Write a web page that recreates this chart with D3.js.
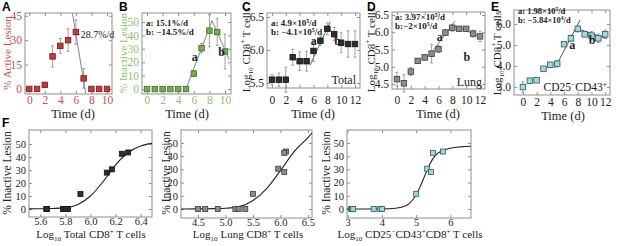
<!DOCTYPE html>
<html>
<head>
<meta charset="utf-8">
<script src="https://cdn.jsdelivr.net/npm/d3@7"></script>
<style>
  body { margin: 0; background: #fff; overflow: hidden; }
  svg { display: block; }
</style>
</head>
<body>
<svg id="chart"></svg>
<script>
// DATA
// ================================================================== //
const daysA = [0, 1, 2, 3, 4, 5, 6, 7, 8, 9, 10];
const daysT = [0, 1, 2, 3, 4, 5, 6, 7, 8, 9, 10, 11, 12];

// % lesions
const activeLesion = [0, 0, 2.5, 20, 26.5, 30, 35, 6.5, 0, 0, 0];
const activeErr = [0, 0, 1, 6.5, 4.5, 7, 7.5, 6, 0, 0, 0];
const inactiveLesion = [0, 0, 0, 0, 0, 0, 11.5, 30.5, 43.5, 42.5, 28];
const inactiveErr = [0, 0, 0, 0, 0, 0, 2, 3.5, 12, 10, 13];

// log10 CD8+ T cell counts
const totalCd8 = [5.55, 5.55, 5.55, 5.89, 5.83, 5.83, 5.985, 6.14, 6.32, 6.24, 6.11, 6.09, 6.09];
const totalErr = [0.08, 0.1, 0.19, 0.12, 0.14, 0.15, 0.16, 0.07, 0.09, 0.1, 0.15, 0.2, 0.2];
const lungCd8 = [4.64, 4.52, 4.86, 5.17, 5.27, 5.38, 5.51, 5.99, 6.13, 6.1, 6.1, 5.96, 5.88];
const lungErr = [0.2, 0.25, 0.12, 0.07, 0.07, 0.27, 0.1, 0.08, 0.1, 0.06, 0.06, 0.1, 0.15];
const cd25Cd8 = [3.0, 3.3, 3.32, 3.87, 4.06, 4.11, 5.04, 5.32, 5.77, 5.51, 5.45, 5.32, 5.51];
const cd25Err = [0.25, 0.12, 0.08, 0.05, 0.1, 0.15, 0.05, 0.15, 0.15, 0.1, 0.2, 0.2, 0.2];

// fitted slopes (endpoints)
const fitA = [[5.56, 46.6], [7.26, -2.5]];
const fitBa = [[5.0, 0], [8.35, 51]];
const fitBb = [[8.35, 51], [10.55, 22]];
const fitCa = [[5.5, 5.77], [8.4, 6.42]];
const fitCb = [[8.0, 6.36], [10.3, 6.06]];
const fitDa = [[4.76, 5.34], [8.4, 6.33]];
const fitDb = [[8.1, 6.2], [12.3, 5.85]];
const fitEa = [[4.66, 3.9], [8.33, 6.19]];
const fitEb = [[8.2, 5.75], [12.3, 5.3]];

// F panels: log10 counts vs % inactive lesion (days 0-10)
const fTotal = [5.65, 5.65, 5.65, 5.82, 5.78, 5.8, 5.92, 6.17, 6.3, 6.25, 6.13];
const fLung = [4.63, 4.5, 4.86, 5.18, 5.24, 5.36, 5.5, 5.96, 6.1, 6.07, 6.07];
const fCd25 = [3.1, 3.13, 3.16, 3.76, 3.95, 4.0, 5.0, 5.32, 5.78, 5.49, 5.43];

// sigmoid fit curves
const curveTotalX = [5.51, 5.6, 5.7, 5.8, 5.9, 6.0, 6.1, 6.2, 6.3, 6.4, 6.49];
const curveTotalY = [0.1, 0.2, 0.4, 0.9, 3.5, 10, 21, 34, 43.5, 48.5, 50.5];
const curveLungX = [4.19, 4.5, 4.8, 5.0, 5.25, 5.5, 5.75, 6.0, 6.25, 6.5, 6.575];
const curveLungY = [0, 0.1, 0.3, 0.6, 1.8, 6.5, 15.5, 29, 43.5, 54, 57.5];
const curveCd25X = [2.98, 4.0, 4.4, 4.7, 4.9, 5.0, 5.1, 5.2, 5.3, 5.4, 5.5, 5.6, 5.8, 6.0, 6.3, 6.6];
const curveCd25Y = [0, 0.1, 0.6, 2.5, 7, 11, 16, 22, 28.5, 34, 38.5, 41.5, 44.5, 46, 47, 47.5];

// ================================================================== //

const serif = '"Liberation Serif", "Times New Roman", serif';
const sans = '"Liberation Sans", Arial, sans-serif';
const frameColor = "#8f8f8f";

const svg = d3.select("#chart").attr("width", 617).attr("height", 246);

// text with sub/superscripts: parts = ["txt", ["10","sub"], ["+","sup"]]
const rich = (sel, parts, fs) => {
    let cur = 0;
    parts.forEach(p => {
        const [s, m] = typeof p === "string" ? [p, ""] : p;
        const off = m === "sub" ? fs * 0.3 : m === "sup" ? -fs * 0.38 : 0;
        sel.append("tspan")
            .attr("dy", off - cur)
            .attr("font-size", m ? fs * 0.65 : null)
            .text(s);
        cur = off;
    });
};

const drawPanel = (p) => {
    const [x0, x1, y0, y1] = p.box;
    const x = d3.scaleLinear().domain(p.xDomain).range([x0, x1]);
    const y = d3.scaleLinear().domain(p.yDomain).range([y1, y0]);
    const g = svg.append("g");
    const clip = "clip" + p.id;
    g.append("clipPath").attr("id", clip).append("rect")
        .attr("x", x0).attr("y", y0).attr("width", x1 - x0).attr("height", y1 - y0);

    const axes = [
        [d3.axisBottom(x).tickValues(p.xTicks).tickFormat(d3.format(p.xFmt)).tickPadding(p.xPad), `translate(0,${y1})`],
        [d3.axisTop(x).tickValues(p.xTicks).tickFormat(""), `translate(0,${y0})`],
        [d3.axisLeft(y).tickValues(p.yTicks).tickFormat(d3.format(p.yFmt)).tickPadding(3), `translate(${x0},0)`],
        [d3.axisRight(y).tickValues(p.yTicks).tickFormat(""), `translate(${x1},0)`]
    ];
    axes.forEach(([ax, tr]) => {
        const a = g.append("g").attr("transform", tr)
            .call(ax.tickSizeInner(-3).tickSizeOuter(0))
            .attr("font-family", serif)
            .attr("font-size", p.tickFs);
        a.select(".domain").remove();
        a.selectAll(".tick line").attr("stroke", frameColor);
        a.selectAll(".tick text").attr("fill", p.textColor);
    });

    g.append("rect")
        .attr("x", x0).attr("y", y0).attr("width", x1 - x0).attr("height", y1 - y0)
        .attr("fill", "none").attr("stroke", frameColor);

    const line = d3.line().x(d => x(d[0])).y(d => y(d[1]));

    // fitted slopes
    (p.fits || []).forEach(f => {
        g.append("path").datum(f)
            .attr("d", line)
            .attr("clip-path", `url(#${clip})`)
            .attr("fill", "none")
            .attr("stroke", p.fitColor)
            .attr("stroke-width", 0.9);
    });

    // sigmoid curve
    if (p.curve) {
        const pts = p.curve[0].map((v, i) => [v, p.curve[1][i]]);
        g.append("path").datum(pts)
            .attr("d", line.curve(d3.curveMonotoneX))
            .attr("clip-path", `url(#${clip})`)
            .attr("fill", "none")
            .attr("stroke", "#222")
            .attr("stroke-width", 1.1);
    }

    // error bars
    if (p.errs) {
        const eb = g.append("g").attr("stroke", "#8a8a8a").attr("stroke-width", 0.8);
        p.xs.forEach((xv, i) => {
            const e = p.errs[i];
            if (!e) return;
            const yv = p.ys[i];
            eb.append("line")
                .attr("x1", x(xv)).attr("x2", x(xv))
                .attr("y1", y(yv - e)).attr("y2", y(yv + e));
            [yv - e, yv + e].forEach(c => eb.append("line")
                .attr("x1", x(xv) - 1.5).attr("x2", x(xv) + 1.5)
                .attr("y1", y(c)).attr("y2", y(c)));
        });
    }

    // markers
    const s = p.markSize;
    g.append("g").selectAll("rect")
        .data(p.xs.map((v, i) => [v, p.ys[i]]))
        .join("rect")
        .attr("x", d => x(d[0]) - s / 2)
        .attr("y", d => y(d[1]) - s / 2)
        .attr("width", s).attr("height", s)
        .attr("fill", p.fill)
        .attr("stroke", p.stroke)
        .attr("stroke-width", 0.8);

    // bold a / b letters beside the slopes
    (p.letters || []).forEach(l => {
        g.append("text")
            .attr("x", x(l[1])).attr("y", y(l[2]))
            .attr("font-family", serif).attr("font-size", 12).attr("font-weight", "bold")
            .attr("fill", "#222")
            .text(l[0]);
    });

    // axis titles (rotated one centred on its x)
    const yl = g.append("text")
        .attr("transform", `translate(${p.yLab[0] + p.yTitleFs * 0.33},${p.yLab[1]}) rotate(-90)`)
        .attr("text-anchor", "middle")
        .attr("font-family", serif).attr("font-size", p.yTitleFs)
        .attr("fill", p.textColor);
    rich(yl, p.yTitle, p.yTitleFs);

    const xl = g.append("text")
        .attr("x", p.xLab[0]).attr("y", p.xLab[1])
        .attr("text-anchor", "middle")
        .attr("font-family", serif).attr("font-size", p.xTitleFs)
        .attr("fill", "#222");
    rich(xl, p.xTitle, p.xTitleFs);

    // in-plot notes
    (p.notes || []).forEach(n => {
        const t = g.append("text")
            .attr("x", n.x).attr("y", n.y)
            .attr("text-anchor", n.anchor || "start")
            .attr("font-family", serif).attr("font-size", n.fs)
            .attr("font-weight", n.bold ? "bold" : null)
            .attr("fill", "#222");
        rich(t, n.parts, n.fs);
    });

    // panel letter
    if (p.letter) {
        svg.append("text")
            .attr("x", p.letter[1]).attr("y", p.letter[2])
            .attr("font-family", sans).attr("font-size", 12).attr("font-weight", "bold")
            .text(p.letter[0]);
    }
};

const timeTitle = ["Time (d)"];
const logTitle = ["Log", ["10", "sub"], " CD8", ["+", "sup"], " T cells"];
const inactiveTitle = ["% Inactive Lesion"];
const topRow = { tickFs: 11.5, yTitleFs: 11, xTitleFs: 12.5, markSize: 5.5 };
const botRow = { tickFs: 10.5, yTitleFs: 11.5, xTitleFs: 11, markSize: 5, xPad: 1, textColor: "#222" };

drawPanel({
    ...topRow, id: "A", letter: ["A", 2, 11], box: [25, 112, 13, 94],
    xDomain: [-0.55, 10.65], yDomain: [-3.1, 46.7],
    xTicks: [0, 2, 4, 6, 8, 10], yTicks: [0, 15, 30, 45], xFmt: "d", yFmt: "d", xPad: 2,
    xs: daysA, ys: activeLesion, errs: activeErr,
    fill: "#c23b3b", stroke: "#7a1717", fitColor: "#777",
    fits: [fitA], textColor: "#c8504c",
    yLab: [7.5, 53], yTitle: ["% Active Lesion"], xLab: [73, 118], xTitle: timeTitle,
    notes: [{ x: 75, y: 38, fs: 10, parts: ["\u221228.7%/d"] }]
});

drawPanel({
    ...topRow, id: "B", letter: ["B", 119, 11], box: [142, 231, 13, 94],
    xDomain: [-0.64, 10.77], yDomain: [-3.7, 56.7],
    xTicks: [0, 2, 4, 6, 8, 10], yTicks: [0, 10, 20, 30, 40, 50], xFmt: "d", yFmt: "d", xPad: 2,
    xs: daysA, ys: inactiveLesion, errs: inactiveErr,
    fill: "#72ad4f", stroke: "#3f6b2a", fitColor: "#777",
    fits: [fitBa, fitBb], textColor: "#8cc26b",
    yLab: [123, 53], yTitle: inactiveTitle, xLab: [187, 118], xTitle: timeTitle,
    letters: [["a", 5.75, 21], ["b", 9.15, 25]],
    notes: [
        { x: 146, y: 26, fs: 9, bold: true, parts: ["a: 15.1%/d"] },
        { x: 146, y: 35, fs: 9, bold: true, parts: ["b: \u221214.5%/d"] }
    ]
});

drawPanel({
    ...topRow, id: "C", letter: ["C", 242, 11], box: [267, 360, 13, 88],
    xDomain: [-0.72, 12.72], yDomain: [5.424, 6.56],
    xTicks: [0, 2, 4, 6, 8, 10, 12], yTicks: [5.5, 6.0, 6.5], xFmt: "d", yFmt: ".1f", xPad: 8,
    xs: daysT, ys: totalCd8, errs: totalErr,
    fill: "#2e2e2e", stroke: "#111", fitColor: "#555",
    fits: [fitCa, fitCb], textColor: "#222",
    yLab: [246, 50], yTitle: logTitle, xLab: [313, 118], xTitle: timeTitle,
    letters: [["a", 5.6, 6.08], ["b", 9.0, 6.08]],
    notes: [
        { x: 271, y: 26, fs: 9, bold: true, parts: ["a: 4.9\u00d710", ["5", "sup"], "/d"] },
        { x: 271, y: 35, fs: 9, bold: true, parts: ["b: \u22124.1\u00d710", ["5", "sup"], "/d"] },
        { x: 356, y: 84, fs: 12, anchor: "end", parts: ["Total"] }
    ]
});

drawPanel({
    ...topRow, id: "D", letter: ["D", 367, 11], box: [392, 485, 12, 89],
    xDomain: [-0.72, 12.72], yDomain: [4.355, 6.587],
    xTicks: [0, 2, 4, 6, 8, 10, 12], yTicks: [4.5, 5.0, 5.5, 6.0, 6.5], xFmt: "d", yFmt: ".1f", xPad: 7,
    xs: daysT, ys: lungCd8, errs: lungErr,
    fill: "#8c8c8c", stroke: "#3d3d3d", fitColor: "#666",
    fits: [fitDa, fitDb], textColor: "#222",
    yLab: [371, 50], yTitle: logTitle, xLab: [438, 118], xTitle: timeTitle,
    letters: [["a", 5.75, 5.75], ["b", 9.6, 5.18]],
    notes: [
        { x: 395, y: 20, fs: 9, bold: true, parts: ["a: 3.97\u00d710", ["5", "sup"], "/d"] },
        { x: 395, y: 29, fs: 9, bold: true, parts: ["b:\u22122\u00d710", ["5", "sup"], "/d"] },
        { x: 482, y: 86, fs: 12, anchor: "end", parts: ["Lung"] }
    ]
});

drawPanel({
    ...topRow, id: "E", letter: ["E", 491, 11], box: [514, 610, 10, 95],
    xDomain: [-1.3, 12.7], yDomain: [2.62, 6.67],
    xTicks: [0, 2, 4, 6, 8, 10, 12], yTicks: [3, 4, 5, 6], xFmt: "d", yFmt: ".1f", xPad: 3,
    xs: daysT, ys: cd25Cd8, errs: cd25Err,
    fill: "#a3d6d8", stroke: "#2b5a60", fitColor: "#444",
    fits: [fitEa, fitEb], textColor: "#222",
    yLab: [497, 53], yTitle: logTitle, xLab: [563, 120], xTitle: timeTitle,
    letters: [["a", 6.75, 4.8], ["b", 9.6, 5.04]],
    notes: [
        { x: 518, y: 14, fs: 8.5, bold: true, parts: ["a: 1.98\u00d710", ["5", "sup"], "/d"] },
        { x: 518, y: 23, fs: 8.5, bold: true, parts: ["b: \u22125.84\u00d710", ["4", "sup"], "/d"] },
        { x: 607, y: 91, fs: 11.5, anchor: "end", parts: ["CD25", ["\u2212", "sup"], "CD43", ["+", "sup"]] }
    ]
});

drawPanel({
    ...botRow, id: "F1", letter: ["F", 2, 127], box: [29, 152, 130, 217],
    xDomain: [5.51, 6.49], yDomain: [-6.15, 60.8],
    xTicks: [5.6, 5.8, 6.0, 6.2, 6.4], yTicks: [0, 10, 20, 30, 40, 50], xFmt: ".1f", yFmt: "d",
    xs: fTotal, ys: inactiveLesion, curve: [curveTotalX, curveTotalY],
    fill: "#2e2e2e", stroke: "#111",
    yLab: [7, 173], yTitle: inactiveTitle,
    xLab: [91, 238], xTitle: ["Log", ["10", "sub"], " Total CD8", ["+", "sup"], " T cells"]
});

drawPanel({
    ...botRow, id: "F2", box: [181, 312, 130, 218],
    xDomain: [4.19, 6.575], yDomain: [-6.8, 59.8],
    xTicks: [4.5, 5.0, 5.5, 6.0, 6.5], yTicks: [0, 10, 20, 30, 40, 50], xFmt: ".1f", yFmt: "d",
    xs: fLung, ys: inactiveLesion, curve: [curveLungX, curveLungY],
    fill: "#8c8c8c", stroke: "#3d3d3d",
    yLab: [166, 173], yTitle: inactiveTitle,
    xLab: [248, 238], xTitle: ["Log", ["10", "sub"], " Lung CD8", ["+", "sup"], " T cells"]
});

drawPanel({
    ...botRow, id: "F3", box: [347, 471, 130, 218],
    xDomain: [2.98, 6.6], yDomain: [-6.8, 59.8],
    xTicks: [3, 4, 5, 6], yTicks: [0, 10, 20, 30, 40, 50], xFmt: "d", yFmt: "d",
    xs: fCd25, ys: inactiveLesion, curve: [curveCd25X, curveCd25Y],
    fill: "#a3d6d8", stroke: "#2b5a60",
    yLab: [326, 173], yTitle: inactiveTitle,
    xLab: [410, 238], xTitle: ["Log", ["10", "sub"], " CD25", ["\u2212", "sup"], "CD43", ["+", "sup"], "CD8", ["+", "sup"], " T cells"]
});
</script>
</body>
</html>
